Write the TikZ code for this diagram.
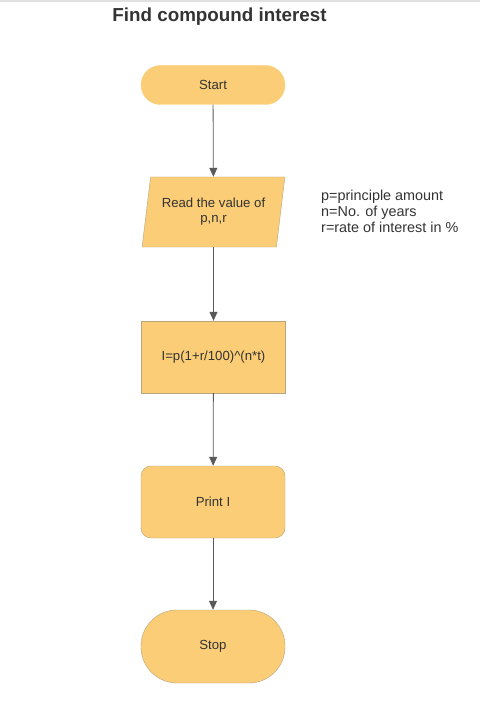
\documentclass[tikz,border=0pt]{standalone}
\usepackage{fontspec}
\setmainfont{Liberation Sans}
\usetikzlibrary{shapes.geometric,arrows.meta}
\definecolor{boxfill}{HTML}{FBCD77}
\definecolor{boxline}{HTML}{B8A47E}
\definecolor{txt}{HTML}{333333}
\definecolor{flow}{HTML}{5A5A5A}
\begin{document}
\begin{tikzpicture}[x=1pt,y=-1pt,
  box/.style={draw=boxline,fill=boxfill,text=txt,font=\fontsize{13.2}{15}\selectfont,
    minimum width=144pt,align=center,inner sep=0pt},
  flowarrow/.style={draw=flow,line width=0.8pt,-{Triangle[length=9pt,width=8pt]}}]
\useasboundingbox (0,0) rectangle (480,719);
\fill[black!12] (0,0) rectangle (480,2.5);
\node[font=\bfseries\fontsize{18.8}{22}\selectfont,text=txt] (title) at (219.5,17) {Find compound interest};

\node[box,draw=boxfill,rounded corners=19.5pt,minimum height=39pt] (start) at (213,85) {Start};
\node[box,trapezium,trapezium left angle=75.6,trapezium right angle=104.4,
  trapezium stretches=true,minimum width=143pt,minimum height=70pt] (read) at (213.5,212) {Read the value of\\p,n,r};
\node[box,minimum height=72pt] (calc) at (213.5,357) {I=p(1+r/100)\^{}(n*t)};
\node[box,rounded corners=10pt,minimum height=72pt] (print) at (213,502) {Print I};
\node[box,rounded corners=36pt,minimum height=73pt] (stop) at (213,646.5) {Stop};

\node[anchor=west,align=left,text=txt,font=\fontsize{14.4}{16}\selectfont,inner sep=0pt] (note) at (321,211)
  {p=principle amount\\n=No. of years\\r=rate of interest in \%};

\draw[flowarrow] (start) -- (read);
\draw[flowarrow] (read) -- (calc);
\draw[flowarrow] (calc) -- (print);
\draw[flowarrow] (print) -- (stop);
\end{tikzpicture}
\end{document}
